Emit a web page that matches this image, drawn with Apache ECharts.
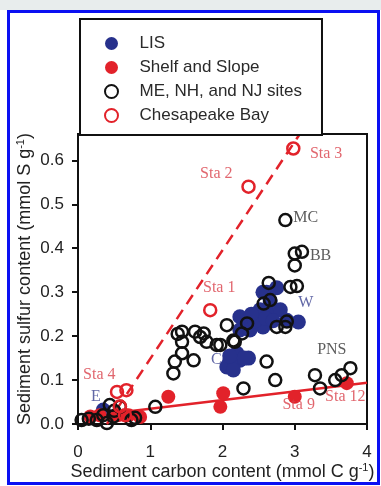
<!DOCTYPE html>
<html>
<head>
<meta charset="utf-8">
<script src="https://cdn.jsdelivr.net/npm/echarts@6/dist/echarts.min.js"></script>
<style>
  html, body { margin: 0; padding: 0; background: #fff; }
  #chart { width: 381px; height: 486px; }
</style>
</head>
<body>
<div id="chart"></div>
<script>
// series data, [carbon, sulfur]
const lisPoints = [
  [0.35, 0.032],
  [2.56, 0.30], [2.61, 0.30], [2.75, 0.31], [2.66, 0.28],
  [2.47, 0.244], [2.66, 0.25], [2.8, 0.26], [2.34, 0.229], [2.56, 0.221],
  [2.24, 0.214], [2.89, 0.236], [3.05, 0.232], [2.24, 0.244], [2.52, 0.26],
  [2.38, 0.214], [2.45, 0.235], [2.6, 0.24], [2.7, 0.235], [2.4, 0.25],
  [2.1, 0.145], [2.06, 0.13], [2.24, 0.145], [2.36, 0.15], [2.15, 0.123],
  [2.2, 0.161], [2.3, 0.15], [2.1, 0.155]
];
const shelfPoints = [
  [0.17, 0.017], [0.3, 0.02], [0.55, 0.02], [0.7, 0.02], [0.86, 0.016],
  [1.25, 0.062], [1.97, 0.039], [2.01, 0.07], [3.0, 0.062], [3.72, 0.093]
];
const meNhNjPoints = [
  [0.05, 0.009], [0.15, 0.012], [0.26, 0.009], [0.4, 0.002], [0.44, 0.043],
  [0.58, 0.039], [0.49, 0.017], [0.74, 0.009], [0.79, 0.014], [0.5, 0.03], [0.35, 0.02],
  [1.07, 0.039],
  [1.44, 0.21], [1.38, 0.205], [1.44, 0.187], [1.44, 0.161], [1.34, 0.142],
  [1.32, 0.115], [1.6, 0.145], [1.62, 0.21], [1.74, 0.206], [1.78, 0.187],
  [1.69, 0.198], [1.92, 0.18], [1.97, 0.18], [2.06, 0.225], [2.27, 0.206],
  [2.34, 0.229], [2.17, 0.187], [2.15, 0.19],
  [2.61, 0.142], [2.57, 0.274], [2.66, 0.282], [2.64, 0.321], [2.75, 0.221],
  [2.87, 0.221], [2.89, 0.233], [2.94, 0.312], [3.03, 0.314],
  [2.73, 0.1], [2.29, 0.081], [3.28, 0.111], [3.35, 0.081], [3.56, 0.1],
  [3.65, 0.111], [3.77, 0.127],
  [2.87, 0.464], [3.0, 0.388], [3.1, 0.392], [3.0, 0.361]
];
const chesapeakePoints = [
  [2.98, 0.627], [2.36, 0.54], [1.83, 0.259],
  [0.54, 0.073], [0.67, 0.077], [0.58, 0.04], [0.65, 0.02]
];
// fitted lines
const chesapeakeFit = [[0.40, 0], [3.07, 0.66]];
const shelfFit = [[0.25, 0.02], [4, 0.094]];

// site labels [x, y, text, group]
const siteLabels = [
  [3.21, 0.616, 'Sta 3', 'red'],
  [1.69, 0.570, 'Sta 2', 'red'],
  [1.73, 0.311, 'Sta 1', 'red'],
  [0.07, 0.111, 'Sta 4', 'red'],
  [2.83, 0.043, 'Sta 9', 'red'],
  [3.42, 0.061, 'Sta 12', 'red'],
  [2.98, 0.470, 'MC', 'black'],
  [3.21, 0.382, 'BB', 'black'],
  [3.31, 0.168, 'PNS', 'black'],
  [3.05, 0.275, 'W', 'blue'],
  [1.84, 0.145, 'C', 'blue'],
  [0.18, 0.061, 'E', 'blue']
];

const xTicks = [0, 1, 2, 3, 4];
const yTicks = [0, 0.1, 0.2, 0.3, 0.4, 0.5, 0.6];

const RED = '#e2222a';
const NAVY = '#27318c';
const labelColors = { red: '#d9404a', black: '#333', blue: '#3a4190' };

const nameRich = {
  a: { fontFamily: 'Liberation Sans', fontSize: 18, color: '#222' },
  s: { fontFamily: 'Liberation Sans', fontSize: 11, color: '#222', padding: [0, 0, 9, 0] }
};

const chart = echarts.init(document.getElementById('chart'));
chart.setOption({
  backgroundColor: '#fff',
  animation: false,
  graphic: [
    { type: 'rect', shape: { x: 0, y: 0, width: 381, height: 10 }, style: { fill: '#e8eded' }, z: 0 },
    { type: 'rect', shape: { x: 8.5, y: 11.5, width: 370, height: 472 },
      style: { fill: null, stroke: '#0a10f2', lineWidth: 3 }, z: 100 }
  ],
  grid: {
    left: 78, top: 134, width: 289, height: 290,
    show: true, borderColor: '#111', borderWidth: 2, backgroundColor: 'transparent'
  },
  legend: {
    orient: 'vertical',
    left: 80, top: 19,
    padding: [16, 20, 11, 24],
    itemWidth: 46, itemHeight: 13, itemGap: 7,
    backgroundColor: '#fff',
    borderColor: '#111', borderWidth: 2,
    textStyle: { fontFamily: 'Liberation Sans', fontSize: 17, lineHeight: 16, color: '#2a2a2a' },
    data: [
      { name: 'LIS', icon: 'circle' },
      { name: 'Shelf and Slope', icon: 'circle' },
      { name: 'ME, NH, and NJ sites', icon: 'circle' },
      { name: 'Chesapeake Bay', icon: 'circle' }
    ],
    z: 20
  },
  xAxis: {
    type: 'value', min: 0, max: 4, interval: 1,
    name: '{a|Sediment carbon content (mmol C g}{s|-1}{a|)}',
    nameLocation: 'middle', nameGap: 38, nameMoveOverlap: false,
    nameTextStyle: { rich: nameRich },
    axisLine: { lineStyle: { color: '#111', width: 2 } },
    axisTick: { inside: false, length: 6, lineStyle: { color: '#111', width: 2 } },
    axisLabel: { margin: 20, fontFamily: 'Liberation Sans', fontSize: 17, color: '#222',
      customValues: xTicks },
    splitLine: { show: false }
  },
  yAxis: {
    type: 'value', min: 0, max: 0.66,
    name: '{a|Sediment sulfur content (mmol S g}{s|-1}{a|)}',
    nameLocation: 'middle', nameGap: 43, nameRotate: 90, nameMoveOverlap: false,
    nameTextStyle: { rich: nameRich },
    axisLine: { lineStyle: { color: '#111', width: 2 } },
    axisTick: { inside: false, length: 6, lineStyle: { color: '#111', width: 2 }, customValues: yTicks },
    axisLabel: { margin: 14, fontFamily: 'Liberation Sans', fontSize: 17, color: '#222',
      customValues: yTicks, formatter: v => v.toFixed(1) },
    splitLine: { show: false }
  },
  series: [
    {
      type: 'line', data: chesapeakeFit, symbol: 'none', silent: true,
      lineStyle: { color: RED, width: 2.5, type: [11, 7] }, z: 2
    },
    {
      type: 'line', data: shelfFit, symbol: 'none', silent: true,
      lineStyle: { color: RED, width: 2.5 }, z: 2
    },
    {
      name: 'LIS', type: 'scatter', data: lisPoints, symbolSize: 15,
      itemStyle: { color: NAVY, opacity: 1 }, z: 3
    },
    {
      name: 'Shelf and Slope', type: 'scatter', data: shelfPoints, symbolSize: 14,
      itemStyle: { color: RED, opacity: 1 }, z: 3
    },
    {
      name: 'ME, NH, and NJ sites', type: 'scatter', data: meNhNjPoints, symbolSize: 12,
      itemStyle: { color: 'rgba(255,255,255,0)', borderColor: '#111', borderWidth: 2.5, opacity: 1 }, z: 4
    },
    {
      name: 'Chesapeake Bay', type: 'scatter', data: chesapeakePoints, symbolSize: 12,
      itemStyle: { color: 'rgba(255,255,255,0)', borderColor: RED, borderWidth: 2.5, opacity: 1 }, z: 4
    },
    {
      type: 'scatter', symbolSize: 0, silent: true, z: 5,
      data: siteLabels.map(d => ({
        value: [d[0], d[1]],
        label: {
          show: true, position: 'right', distance: 0,
          formatter: d[2],
          fontFamily: 'Liberation Serif', fontSize: 16,
          color: labelColors[d[3]]
        }
      }))
    }
  ]
});
</script>
</body>
</html>
